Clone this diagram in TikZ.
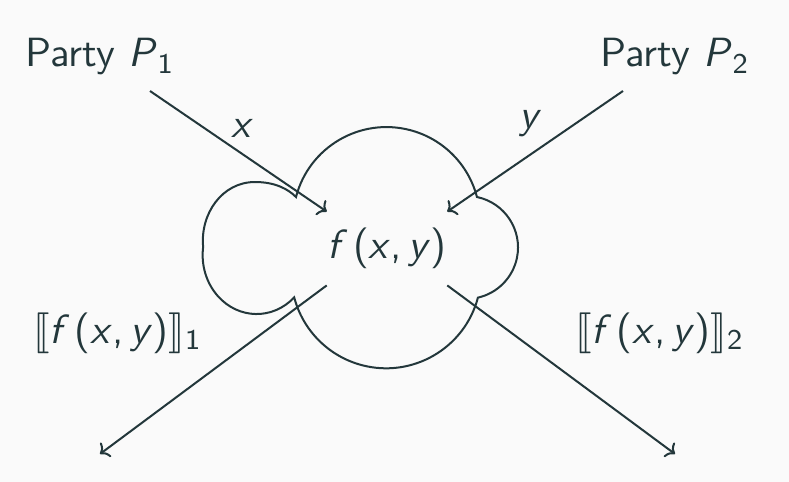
\documentclass[tikz,border=0pt]{standalone}
\usepackage{amsmath}
\usepackage{stmaryrd}
\usepackage{graphicx}
\usetikzlibrary{arrows.meta}
\definecolor{mdark}{HTML}{23373B}
\definecolor{mbg}{HTML}{FAFAFA}
\newcommand{\vi}[1]{\textsf{\textit{#1}}}
\newcommand{\bigtxt}[1]{\scalebox{2.04}{#1}}
\begin{document}
\begin{tikzpicture}[x=0.5pt,y=-0.5pt,
  lbl/.style={inner sep=0pt, text=mdark, font=\sffamily\fontsize{10}{12}\selectfont},
  ln/.style={draw=mdark, line width=1pt},
  arr/.style={ln, -{To[length=4pt,width=9pt]}}]
\fill[mbg] (0,0) rectangle (789,482);
\useasboundingbox (0,0) rectangle (789,482);
% cloud
\draw[ln, line join=miter] (296,197) arc[start angle=194.6, end angle=345.4, radius=93.5]
  arc[start angle=281.7, end angle=437.2, radius=51.5]
  arc[start angle=14.85, end angle=165.3, radius=95]
  arc[start angle=45.9, end angle=187.9, x radius=54, y radius=59]
  .. controls (200,214) and (222,182) .. (255,182)
  .. controls (275,182) and (288,189) .. cycle;
% labels
\node[lbl, anchor=base west] (P1) at (25,67) {\bigtxt{Party \vi{P}$_{\textsf{1}}$}};
\node[lbl, anchor=base west] (P2) at (600,67) {\bigtxt{Party \vi{P}$_{\textsf{2}}$}};
\node[lbl, anchor=base] (lx) at (242,137) {\bigtxt{\vi{x}}};
\node[lbl, anchor=base] (ly) at (531,128) {\bigtxt{\vi{y}}};
\node[lbl, minimum width=53.5pt, minimum height=36.5pt] (f) at (387,248.5) {\bigtxt{\vi{f}\kern0.14em(\vi{x},\,\vi{y})}};
\node[lbl, anchor=base west] (o1l) at (33,343) {\bigtxt{$\llbracket$\vi{f}\kern0.12em(\vi{x},\,\vi{y})$\rrbracket_{\textsf{1}}$}};
\node[lbl, anchor=base west] (o2l) at (575,343) {\bigtxt{$\llbracket$\vi{f}\kern0.12em(\vi{x},\,\vi{y})$\rrbracket_{\textsf{2}}$}};
% arrow ends
\coordinate (s1) at (150,91);
\coordinate (s2) at (623,91);
\coordinate (e1) at (100,454);
\coordinate (e2) at (675,454);
\draw[arr] (s1) -- (f.north west);
\draw[arr] (s2) -- (f.north east);
\draw[arr] (f.south west) -- (e1);
\draw[arr] (f.south east) -- (e2);
\end{tikzpicture}
\end{document}
